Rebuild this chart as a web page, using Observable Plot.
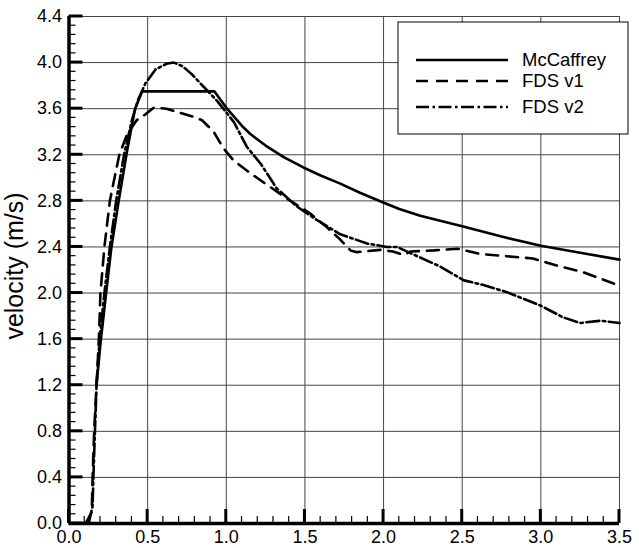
<!DOCTYPE html>
<html><head><meta charset="utf-8">
<script src="https://cdn.jsdelivr.net/npm/d3@7"></script>
<script src="https://cdn.jsdelivr.net/npm/@observablehq/plot@0.6"></script>
<style>body{margin:0;background:#fff} #chart{width:639px;height:548px}</style>
</head><body><div id="chart"></div>
<script>
// McCaffrey correlation (solid)
const mcX = [0.175,0.2,0.236,0.27,0.316,0.37,0.42,0.465,0.925,1.005,1.1,1.153,1.25,1.365,1.49,1.6,1.725,1.85,1.99,2.1,2.233,2.5,2.75,3.0,3.25,3.5];
const mcY = [1.2,1.56,2.0,2.4,2.8,3.24,3.6,3.75,3.75,3.60,3.45,3.38,3.28,3.18,3.09,3.02,2.95,2.87,2.79,2.73,2.67,2.58,2.49,2.41,2.35,2.29];
// FDS v1 (dashed)
const v1X = [0.105,0.145,0.15,0.16,0.175,0.19,0.20,0.225,0.26,0.285,0.32,0.37,0.43,0.475,0.54,0.62,0.69,0.79,0.846,0.92,0.98,1.047,1.153,1.28,1.407,1.534,1.64,1.72,1.79,1.83,1.98,2.06,2.13,2.17,2.32,2.47,2.61,2.78,2.95,3.10,3.27,3.45,3.5];
const v1Y = [0,0.1,0.4,0.8,1.2,1.6,2.0,2.4,2.8,2.97,3.2,3.38,3.5,3.54,3.61,3.6,3.57,3.53,3.50,3.40,3.26,3.15,3.04,2.92,2.80,2.69,2.57,2.47,2.37,2.355,2.375,2.36,2.33,2.36,2.37,2.385,2.34,2.32,2.30,2.24,2.18,2.09,2.06];
// FDS v2 (dash-dot)
const v2X = [0.125,0.15,0.155,0.165,0.175,0.195,0.225,0.26,0.30,0.35,0.40,0.44,0.486,0.55,0.62,0.666,0.72,0.78,0.835,0.94,1.005,1.05,1.13,1.22,1.32,1.45,1.58,1.725,1.895,2.02,2.085,2.23,2.36,2.51,2.635,2.78,3.0,3.14,3.25,3.38,3.5];
const v2Y = [0,0.15,0.4,0.8,1.2,1.6,2.0,2.4,2.8,3.2,3.5,3.68,3.82,3.94,3.99,4.0,3.97,3.9,3.82,3.67,3.56,3.48,3.27,3.12,2.91,2.75,2.63,2.51,2.43,2.40,2.40,2.31,2.23,2.11,2.07,2.01,1.89,1.79,1.74,1.76,1.74];

const seriesNames = ["McCaffrey","FDS v1","FDS v2"];
const seriesDash = [null,"12,8","13,3.5,2.5,3.5"];
const xTicks = [0,0.5,1.0,1.5,2.0,2.5,3.0,3.5];
const yTicks = [0,0.4,0.8,1.2,1.6,2.0,2.4,2.8,3.2,3.6,4.0,4.4];
const xMinorTicks = [0.1,0.2,0.3,0.4,0.6,0.7,0.8,0.9,1.1,1.2,1.3,1.4,1.6,1.7,1.8,1.9,2.1,2.2,2.3,2.4,2.6,2.7,2.8,2.9,3.1,3.2,3.3,3.4];
const yMinorTicks = [0.08,0.16,0.24,0.32,0.48,0.56,0.64,0.72,0.88,0.96,1.04,1.12,1.28,1.36,1.44,1.52,1.68,1.76,1.84,1.92,2.08,2.16,2.24,2.32,2.48,2.56,2.64,2.72,2.88,2.96,3.04,3.12,3.28,3.36,3.44,3.52,3.68,3.76,3.84,3.92,4.08,4.16,4.24,4.32];
const yLabel = "velocity (m/s)";

(function draw() {
  const toRows = (xs, ys) => xs.map((x,i)=>({x, y: ys[i]}));
  const series = [toRows(mcX,mcY), toRows(v1X,v1Y), toRows(v2X,v2Y)];
  const W = 639, H = 548, mL = 68.5, mR = 20, mT = 16, mB = 25;
  const xDom = [0,3.5], yDom = [0,4.4];
  const bigTick = 14, smallTick = 7;

  const chart = Plot.plot({
    width: W, height: H,
    marginLeft: mL, marginRight: mR, marginTop: mT, marginBottom: mB,
    style: {fontFamily: "'Liberation Sans', Arial, sans-serif", fontSize: "18px", color: "#000", background: "#fff"},
    x: {domain: xDom},
    y: {domain: yDom},
    marks: [
      Plot.gridX(xTicks, {stroke: "#444", strokeOpacity: 1, strokeWidth: 1}),
      Plot.gridY(yTicks, {stroke: "#444", strokeOpacity: 1, strokeWidth: 1}),
      Plot.axisX(xTicks, {tickSize: 0, tickPadding: 7, tickFormat: d3.format(".1f"), label: null, fontSize: 18}),
      Plot.axisY(yTicks, {tickSize: 0, tickPadding: 7, tickFormat: d3.format(".1f"), label: null, fontSize: 18}),
      Plot.ruleX([xDom[0]], {strokeWidth: 3.5, stroke: "#000"}),
      Plot.ruleY([yDom[0]], {strokeWidth: 3.5, stroke: "#000"}),
      Plot.line(series[0], {x: "x", y: "y", stroke: "#000", strokeWidth: 2.6}),
      Plot.line(series[1], {x: "x", y: "y", stroke: "#000", strokeWidth: 2.6, strokeDasharray: seriesDash[1]}),
      Plot.line(series[2], {x: "x", y: "y", stroke: "#000", strokeWidth: 2.6, strokeDasharray: seriesDash[2]}),
      Plot.text([yLabel], {frameAnchor: "left", dx: -46.5, dy: -4, rotate: -90, lineAnchor: "bottom", textAnchor: "middle", fontSize: 25, fill: "#000"})
    ]
  });
  document.getElementById("chart").append(chart);

  // inward axis ticks, positioned through the chart's own scales
  const sx = chart.scale("x"), sy = chart.scale("y");
  const x0 = sx.apply(xDom[0]), y0 = sy.apply(yDom[0]);
  const tg = d3.select(chart).append("g").attr("stroke","#000");
  const addY = (vals, len, w) => vals.forEach(v => tg.append("line")
    .attr("x1", x0).attr("x2", x0 + len).attr("y1", sy.apply(v)).attr("y2", sy.apply(v)).attr("stroke-width", w));
  const addX = (vals, len, w) => vals.forEach(v => tg.append("line")
    .attr("x1", sx.apply(v)).attr("x2", sx.apply(v)).attr("y1", y0).attr("y2", y0 - len).attr("stroke-width", w));
  addY(yMinorTicks, smallTick, 1.2);
  addY(yTicks, bigTick, 3);
  addX(xMinorTicks, smallTick, 1.2);
  addX(xTicks, bigTick, 3);

  // legend drawn inside the chart svg
  const lg = d3.select(chart).append("g").attr("transform","translate(398,22)");
  lg.append("rect").attr("width",230).attr("height",112).attr("fill","#fff").attr("stroke","#000").attr("stroke-width",1);
  const rowY = [38,59,85];
  seriesNames.forEach((name,i)=>{
    lg.append("line").attr("x1",18).attr("x2",110).attr("y1",rowY[i]).attr("y2",rowY[i])
      .attr("stroke","#000").attr("stroke-width",2.6).attr("stroke-dasharray",seriesDash[i]);
    lg.append("text").attr("x",124).attr("y",rowY[i]).attr("dy","0.35em")
      .attr("text-anchor","start").attr("font-size",18.5).attr("fill","#000").text(name);
  });
})();
</script>
</body></html>
